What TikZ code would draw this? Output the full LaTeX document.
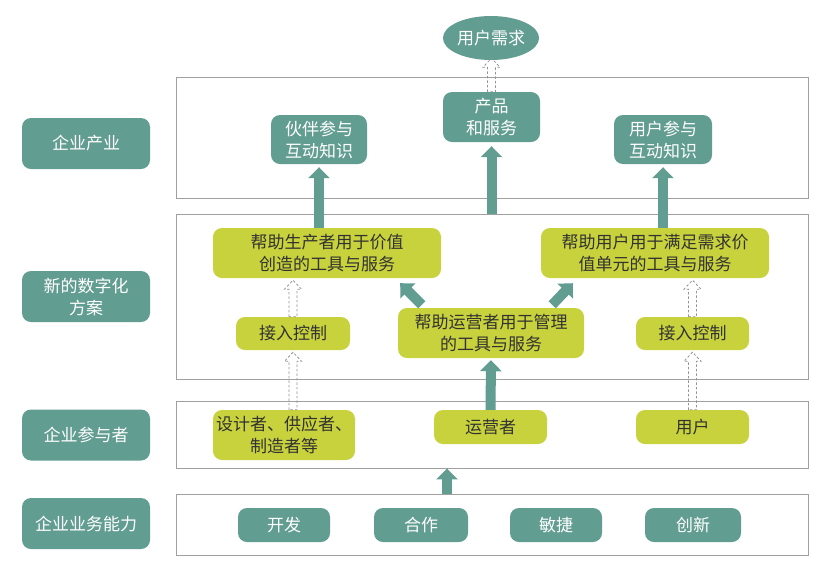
\documentclass[tikz,border=0pt]{standalone}
\usepackage{fontspec}
\setmainfont{Noto Sans CJK SC}
\usetikzlibrary{arrows.meta,calc,shapes.geometric}
\definecolor{teal}{RGB}{98,157,145}
\definecolor{lime}{RGB}{200,210,60}
\definecolor{frame}{RGB}{160,160,160}
\definecolor{dtext}{RGB}{50,50,50}
\tikzset{
  frm/.style={draw=frame,line width=0.9pt,inner sep=0pt},
  tbox/.style={fill=teal,rounded corners=9pt,text=white,font=\fontsize{17}{22}\selectfont,align=center,inner sep=0pt},
  lbox/.style={fill=lime,rounded corners=9pt,text=dtext,font=\fontsize{17}{22}\selectfont,align=center,inner sep=0pt},
  solidarr/.style={draw=teal,line width=10pt,-{Triangle[width=21pt,length=11pt]}},
  hollow/.style={draw=gray!85,line width=0.8pt,dash pattern=on 2.5pt off 2pt},
}
\newcommand\hollowup[2]{%
  \draw[hollow] let \p1=#1, \p2=#2 in
    (\x1-4pt,\y1) -- (\x1-4pt,\y2-9pt) -- (\x1-8.5pt,\y2-9pt) -- (\x1,\y2)
    -- (\x1+8.5pt,\y2-9pt) -- (\x1+4pt,\y2-9pt) -- (\x1+4pt,\y1) -- cycle;}
\begin{document}
\begin{tikzpicture}[x=1pt,y=-1pt]
\useasboundingbox (0,0) rectangle (824,574);
\fill[white] (0,0) rectangle (824,574);
% frames
\node[frm,minimum width=632pt,minimum height=121pt] (f1) at (492,137.5) {};
\node[frm,minimum width=632pt,minimum height=165pt] (f2) at (492,296.5) {};
\node[frm,minimum width=632pt,minimum height=67pt] (f3) at (492,434.5) {};
\node[frm,minimum width=632pt,minimum height=61pt] (f4) at (492,524.5) {};
% left labels
\node[tbox,minimum width=128pt,minimum height=51pt] (l1) at (86,143.5) {企业产业};
\node[tbox,minimum width=128pt,minimum height=51pt] (l2) at (86,296.5) {新的数字化\\方案};
\node[tbox,minimum width=128pt,minimum height=51pt] (l3) at (86,435) {企业参与者};
\node[tbox,minimum width=128pt,minimum height=51pt] (l4) at (86,523.5) {企业业务能力};
% top
\node[ellipse,fill=teal,text=white,font=\fontsize{17}{22}\selectfont,minimum width=96pt,minimum height=44pt,inner sep=0pt] (need) at (491,38) {用户需求};
\node[tbox,minimum width=97pt,minimum height=50pt] (prod) at (491.5,117) {产品\\和服务};
\node[tbox,minimum width=96pt,minimum height=49pt] (pk) at (319,139.5) {伙伴参与\\互动知识};
\node[tbox,minimum width=98pt,minimum height=49pt] (uk) at (663,139.5) {用户参与\\互动知识};
% digital layer
\node[lbox,minimum width=228pt,minimum height=50pt] (hp) at (327,253) {帮助生产者用于价值\\创造的工具与服务};
\node[lbox,minimum width=228pt,minimum height=50pt] (hu) at (655,253) {帮助用户用于满足需求价\\值单元的工具与服务};
\node[lbox,minimum width=114pt,minimum height=33pt] (ac1) at (293,333.5) {接入控制};
\node[lbox,minimum width=186pt,minimum height=50pt] (ho) at (491,333) {帮助运营者用于管理\\的工具与服务};
\node[lbox,minimum width=113pt,minimum height=33pt] (ac2) at (692.5,333.5) {接入控制};
% participants
\node[lbox,minimum width=142pt,minimum height=50pt] (des) at (284,435) {设计者、供应者、\\制造者等};
\node[lbox,minimum width=113pt,minimum height=34pt] (op) at (490.5,427) {运营者};
\node[lbox,minimum width=113pt,minimum height=34pt] (us) at (692.5,427) {用户};
% capabilities
\node[tbox,minimum width=92pt,minimum height=34pt] (c1) at (284,525) {开发};
\node[tbox,minimum width=94pt,minimum height=34pt] (c2) at (421,525) {合作};
\node[tbox,minimum width=92pt,minimum height=34pt] (c3) at (556,525) {敏捷};
\node[tbox,minimum width=96pt,minimum height=34pt] (c4) at (693,525) {创新};
% solid arrows
\draw[solidarr] (prod.south |- f2.north) -- ($(prod.south)+(0,4)$);
\draw[solidarr] (pk.south |- hp.north) -- ($(pk.south)+(0,3)$);
\draw[solidarr] (uk.south |- hu.north) -- ($(uk.south)+(0,3)$);
\draw[solidarr] ($(ho.north west)+(24,-3)$) -- ($(hp.south east)+(-41,5)$);
\draw[solidarr] ($(ho.north east)+(-32,-3)$) -- ($(hu.south west)+(32,5)$);
\draw[solidarr] (op.north) -- ($(ho.south)+(0,2)$);
\coordinate (f4top) at ($(f4.north)+(-45,0)$);
\draw[solidarr] (f4top) -- (f4top |- f3.south);
% hollow dashed arrows
\hollowup{(prod.north)}{($(need.south)+(0,-2)$)}
\hollowup{(ac1.north)}{($(ac1.north |- hp.south)+(0,2)$)}
\hollowup{(ac2.north)}{($(ac2.north |- hu.south)+(0,2)$)}
\hollowup{(ac1.north |- des.north)}{($(ac1.south)+(0,2)$)}
\hollowup{(us.north)}{($(ac2.south)+(0,2)$)}
\end{tikzpicture}
\end{document}
